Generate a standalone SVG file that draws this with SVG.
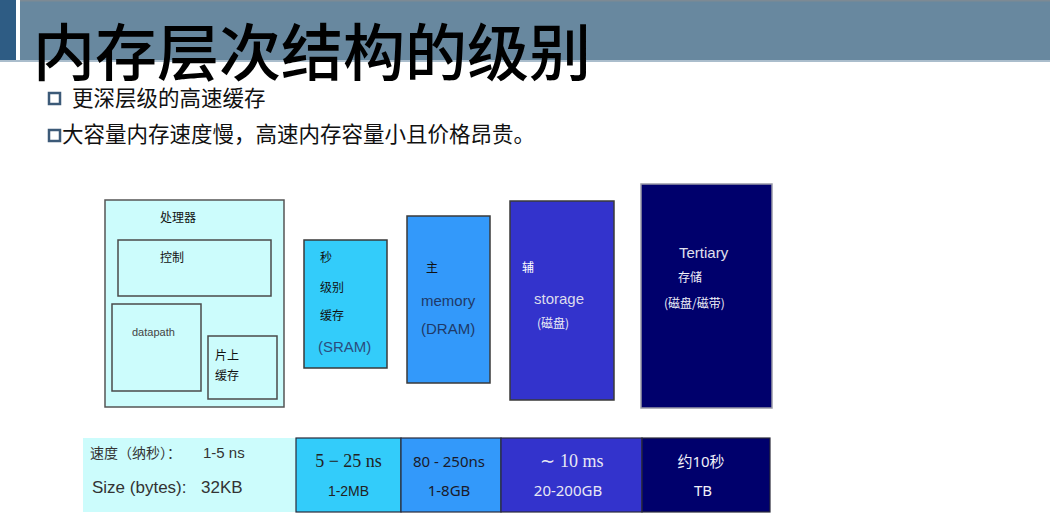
<svg xmlns="http://www.w3.org/2000/svg" width="1050" height="518" viewBox="0 0 1050 518">
  <style>
    .cjk { font-family: "Noto Sans CJK SC", "Noto Sans", sans-serif; }
    .sans { font-family: "Liberation Sans", Arial, sans-serif; }
    .ui { font-family: "Noto Sans", "Noto Sans CJK SC", sans-serif; }
    .serif { font-family: "Liberation Serif", "Times New Roman", serif; }
    .box { stroke: #3a3a3a; stroke-width: 1.5; }
    .inner { fill: none; stroke: #4a4a4a; stroke-width: 1.5; }
    .cell { stroke: #2a2a3a; stroke-width: 1.2; }
    .bullet { fill: none; stroke: #3c5a78; stroke-width: 2.5; }
  </style>

  <rect width="1050" height="518" fill="#ffffff"/>

  <!-- header band -->
  <g id="header">
    <rect x="0" y="0" width="16" height="61" fill="#2e5c84"/>
    <rect x="20" y="0" width="1030" height="61" fill="#68889f"/>
    <rect x="20" y="0" width="1030" height="1.5" fill="#7d8a94"/>
    <rect x="0" y="60" width="1050" height="2" fill="#aabdcc"/>
    <text x="33" y="76" class="cjk" font-size="62" font-weight="500" fill="#000">内存层次结构的级别</text>
  </g>

  <!-- bullet lines -->
  <g id="bullets">
    <rect x="49" y="93" width="11" height="11" class="bullet"/>
    <text x="72" y="106" class="cjk" font-size="21.5" fill="#111">更深层级的高速缓存</text>
    <rect x="49" y="130" width="11" height="11" class="bullet"/>
    <text x="62" y="142" class="cjk" font-size="21.5" fill="#111">大容量内存速度慢，高速内存容量小且价格昂贵。</text>
  </g>

  <!-- processor -->
  <g id="processor">
    <rect x="105" y="200" width="179" height="207" fill="#ccfcfc" stroke="#555" stroke-width="1.5"/>
    <text x="160" y="222" class="cjk" font-size="12" fill="#111">处理器</text>
    <rect x="118" y="240" width="153" height="56" class="inner"/>
    <text x="160" y="262" class="cjk" font-size="12" fill="#111">控制</text>
    <rect x="112" y="304" width="89" height="87" class="inner"/>
    <text x="132" y="336" class="sans" font-size="11" fill="#444">datapath</text>
    <rect x="208" y="336" width="69" height="63" class="inner"/>
    <text x="215" y="360" class="cjk" font-size="12" fill="#111">片上</text>
    <text x="215" y="380" class="cjk" font-size="12" fill="#111">缓存</text>
  </g>

  <!-- SRAM cache -->
  <g id="sram">
    <rect x="304" y="240" width="83" height="128" fill="#33ccfa" class="box"/>
    <text x="320" y="262" class="cjk" font-size="12" fill="#111">秒</text>
    <text x="320" y="292" class="cjk" font-size="12" fill="#111">级别</text>
    <text x="320" y="320" class="cjk" font-size="12" fill="#111">缓存</text>
    <text x="318" y="352" class="sans" font-size="15" fill="#2b4c7e">(SRAM)</text>
  </g>

  <!-- main memory -->
  <g id="dram">
    <rect x="407" y="216" width="83" height="167" fill="#3399fa" class="box"/>
    <text x="426" y="272" class="cjk" font-size="12" fill="#111">主</text>
    <text x="421" y="306" class="sans" font-size="15" fill="#1f3a68">memory</text>
    <text x="421" y="334" class="sans" font-size="15" fill="#1f3a68">(DRAM)</text>
  </g>

  <!-- secondary storage -->
  <g id="storage">
    <rect x="510" y="201" width="104" height="199" fill="#3333cc" class="box"/>
    <text x="522" y="272" class="cjk" font-size="12" fill="#fff">辅</text>
    <text x="534" y="304" class="sans" font-size="15" fill="#dcdcec">storage</text>
    <text x="537" y="328" class="cjk" font-size="12" fill="#eeeef6">(磁盘)</text>
  </g>

  <!-- tertiary storage -->
  <g id="tertiary">
    <rect x="641" y="184" width="131" height="224" fill="#00006c" stroke="#9a9aa8" stroke-width="1.5"/>
    <text x="679" y="258" class="sans" font-size="15" fill="#e0e0ee">Tertiary</text>
    <text x="678" y="282" class="cjk" font-size="12" fill="#f0f0f8">存储</text>
    <text x="664" y="308" class="cjk" font-size="12" fill="#f0f0f8">(磁盘/磁带)</text>
  </g>

  <!-- speed / size row -->
  <g id="row-processor">
    <rect x="83" y="438" width="213" height="74" fill="#ccfcfc"/>
    <text x="90" y="458" class="cjk" font-size="14" fill="#333">速度（纳秒）：</text>
    <text x="203" y="458" class="sans" font-size="15" fill="#333">1-5 ns</text>
    <text x="92" y="493" class="sans" font-size="17" fill="#333">Size (bytes):</text>
    <text x="201" y="493" class="sans" font-size="17" fill="#333">32KB</text>
  </g>
  <g id="row-sram">
    <rect x="296" y="438" width="105" height="74" fill="#33ccfa" class="cell"/>
    <text x="348.5" y="467" class="serif" font-size="18" fill="#222" text-anchor="middle">5 − 25 ns</text>
    <text x="348.5" y="496" class="sans" font-size="14" fill="#222" text-anchor="middle">1-2MB</text>
  </g>
  <g id="row-dram">
    <rect x="401" y="438" width="100" height="74" fill="#3399fa" class="cell"/>
    <text x="449" y="467" class="ui" font-size="15" fill="#1a1a2a" text-anchor="middle">80 - 250ns</text>
    <text x="449" y="496" class="ui" font-size="15" fill="#1a1a2a" text-anchor="middle">1-8GB</text>
  </g>
  <g id="row-storage">
    <rect x="501" y="438" width="141" height="74" fill="#3333cc" class="cell"/>
    <text x="572" y="467" class="serif" font-size="18" fill="#e8e8f4" text-anchor="middle">∼ 10 ms</text>
    <text x="568" y="496" class="ui" font-size="15" fill="#e8e8f4" text-anchor="middle">20-200GB</text>
  </g>
  <g id="row-tertiary">
    <rect x="642" y="438" width="128" height="74" fill="#00006c" class="cell"/>
    <text x="701" y="467" class="ui" font-size="15" fill="#f0f0f8" text-anchor="middle">约10秒</text>
    <text x="703" y="496" class="ui" font-size="15" fill="#f0f0f8" text-anchor="middle">TB</text>
  </g>
</svg>
